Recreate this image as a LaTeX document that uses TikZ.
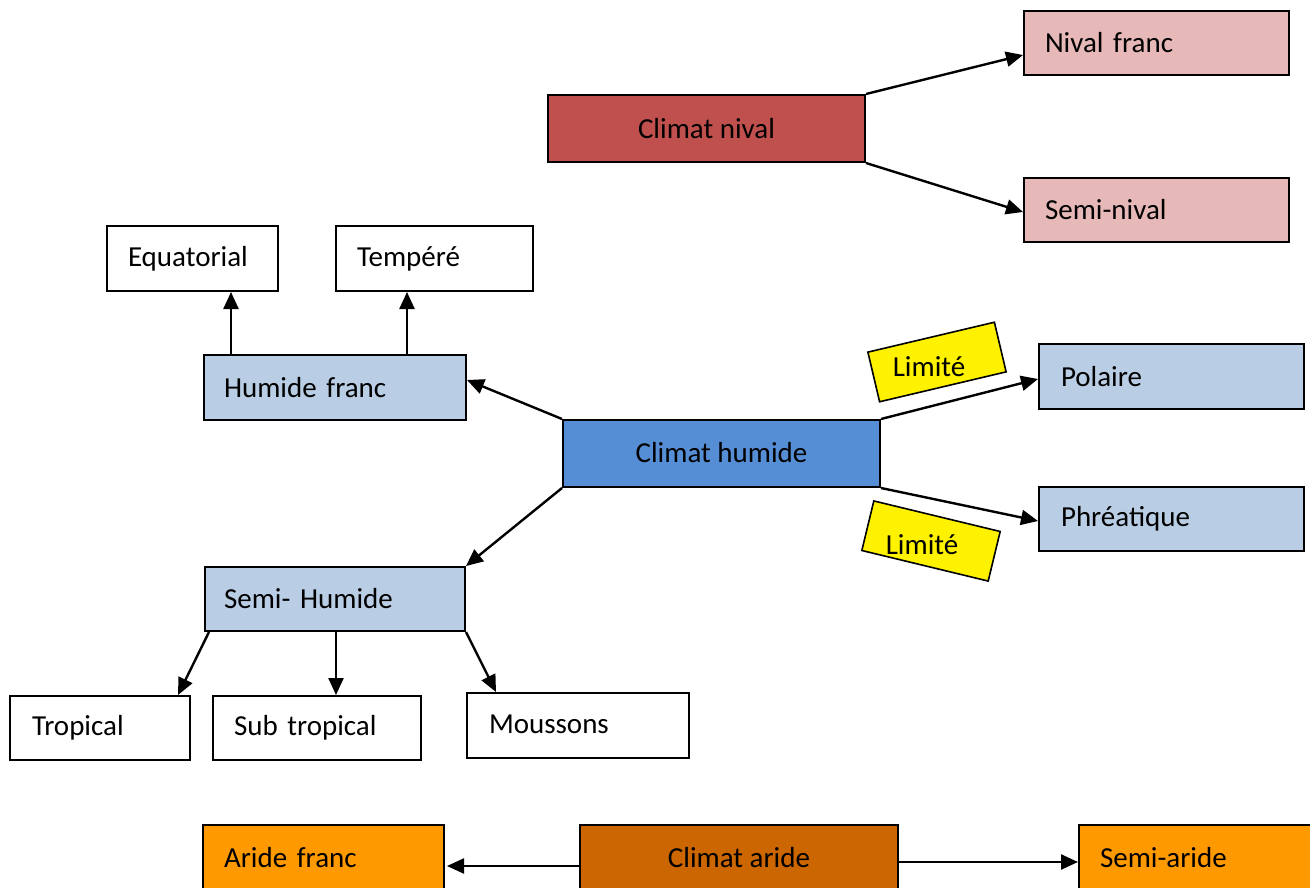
\documentclass[tikz,border=0pt]{standalone}
\usepackage{fontspec}
\setmainfont{Carlito}
\usetikzlibrary{arrows.meta}
\definecolor{nival}{HTML}{C0504D}
\definecolor{nivalL}{HTML}{E6B9B8}
\definecolor{humL}{HTML}{B9CDE5}
\definecolor{hum}{HTML}{558ED5}
\definecolor{arid}{HTML}{CC6600}
\definecolor{aridL}{HTML}{FF9900}
\tikzset{
  box/.style={draw=black, line width=2pt, rectangle, inner sep=0pt, font=\fontsize{29}{34}\selectfont},
  lbox/.style={box, inner xsep=21pt, align=left},
  cbox/.style={box, align=center},
  arr/.style={line width=2.4pt, -{Triangle[length=17pt,width=15pt]}},
  limbox/.style={draw=black, line width=1.6pt, fill=yellow, minimum width=130pt, minimum height=51pt, inner sep=0pt},
  limtxt/.style={font=\fontsize{29}{34}\selectfont, inner sep=0pt}
}
\begin{document}
\begin{tikzpicture}[x=1pt,y=-1pt]
\useasboundingbox (0,0) rectangle (1310,888);
\clip (0,0) rectangle (1310,888);
% nival
\node[cbox, fill=nival, minimum width=317pt, minimum height=67pt] (cn) at (706.5,128.5) {Climat nival};
\node[lbox, fill=nivalL, text width=223pt, minimum height=64pt] (nf) at (1156.5,43) {Nival franc};
\node[lbox, fill=nivalL, text width=223pt, minimum height=64pt] (sn) at (1156.5,210) {Semi-nival};
\draw[arr] (cn.north east) -- ([yshift=-12pt]nf.west);
\draw[arr] (cn.south east) -- ([yshift=-2pt]sn.west);
% humide
\node[lbox, fill=white, text width=129pt, minimum height=65pt] (eq) at (192.5,258.5) {Equatorial};
\node[lbox, fill=white, text width=155pt, minimum height=65pt] (te) at (434.5,258.5) {Tempéré};
\node[lbox, fill=humL, text width=222pt, minimum height=65pt, inner xsep=20pt] (hf) at (335,387.5) {Humide franc};
\draw[arr] ([xshift=-104pt]hf.north) -- ([xshift=38.5pt]eq.south);
\draw[arr] ([xshift=72pt]hf.north) -- ([xshift=-27.5pt]te.south);
\node[cbox, fill=hum, minimum width=317pt, minimum height=67pt] (ch) at (721.5,453.5) {\raisebox{3pt}{Climat humide}};
\node[lbox, fill=humL, text width=222pt, minimum height=64pt, inner xsep=19pt] (sh) at (335,599) {Semi- Humide};
\draw[arr] (ch.north west) -- ([yshift=7.5pt]hf.east);
\draw[arr] (ch.south west) -- (sh.north east);
\node[lbox, fill=white, text width=136pt, minimum height=64pt, inner xsep=22pt] (tr) at (100,728) {Tropical};
\node[lbox, fill=white, text width=166pt, minimum height=64pt] (st) at (317,728) {Sub tropical};
\node[lbox, fill=white, text width=178pt, minimum height=65pt, inner xsep=22pt] (mo) at (578,725.5) {\raisebox{2pt}{Moussons}};
\draw[arr] ([xshift=5pt]sh.south west) -- ([xshift=-13pt]tr.north east);
\draw[arr] ([xshift=1pt]sh.south) -- ([xshift=19pt]st.north);
\draw[arr] (sh.south east) -- ([xshift=30pt]mo.north west);
\node[lbox, fill=humL, text width=221pt, minimum height=65pt, inner xsep=22pt] (po) at (1171.5,376.5) {Polaire};
\node[lbox, fill=humL, text width=221pt, minimum height=64pt, inner xsep=22pt] (ph) at (1171.5,519) {Phréatique};
\draw[arr] (ch.north east) -- ([yshift=-2.5pt]po.west);
\draw[arr] (ch.south east) -- ([yshift=-2pt]ph.west);
\node[limbox, rotate=13.3] (l1) at (937,362) {};
\node[limtxt] (l1t) at (929,367) {Limité};
\node[limbox, rotate=-13.6] (l2) at (931,541) {};
\node[limtxt] (l2t) at (922,545) {Limité};
% aride
\node[cbox, fill=arid, minimum width=318pt, minimum height=67pt] (ca) at (739,858.5) {\raisebox{3pt}{Climat aride}};
\node[lbox, fill=aridL, text width=199pt, minimum height=67pt] (af) at (323.5,858.5) {\raisebox{3pt}{Aride franc}};
\node[lbox, fill=aridL, text width=223pt, minimum height=67pt] (sa) at (1211.5,858.5) {\raisebox{3pt}{Semi-aride}};
\draw[arr] ([yshift=-7.5pt]ca.west) -- ([xshift=2pt,yshift=-7.5pt]af.east);
\draw[arr] ([yshift=-3.5pt]ca.east) -- ([yshift=-3.5pt]sa.west);
\end{tikzpicture}
\end{document}
